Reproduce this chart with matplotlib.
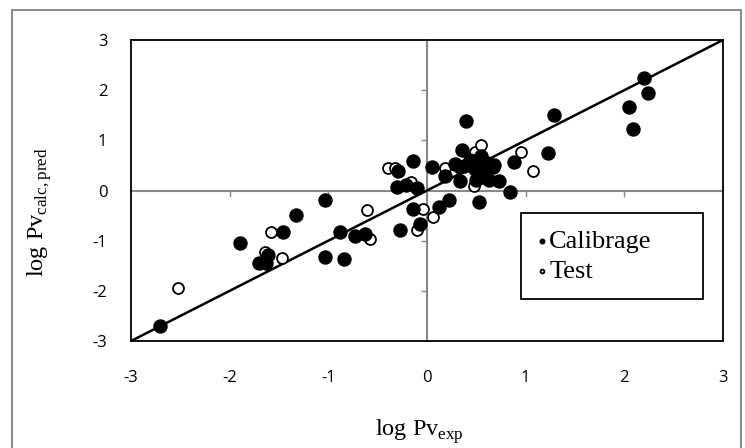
import matplotlib.pyplot as plt
from matplotlib.patches import Rectangle

# Calibrage (filled) points: log Pv exp / log Pv calc
calib_x = [-2.71, -1.90, -1.70, -1.63, -1.61, -1.46, -1.33, -1.03, -1.03, -0.84,
           -0.88, -0.73, -0.63, -0.27, -0.29, -0.30, -0.21, -0.145, -0.14, -0.10,
           -0.07, 0.05, 0.12, 0.22, 0.18, 0.28, 0.33, 0.35, 0.40, 0.37,
           0.44, 0.49, 0.53, 0.55, 0.58, 0.61, 0.63, 0.68, 0.73, 0.84,
           0.88, 1.23, 1.29, 2.05, 2.09, 2.20, 2.24, 0.52, 0.54, 0.57,
           0.62, 0.67, 0.33, 0.50]
calib_y = [-2.71, -1.05, -1.45, -1.45, -1.29, -0.82, -0.49, -0.18, -1.33, -1.36,
           -0.82, -0.90, -0.86, -0.78, 0.39, 0.06, 0.11, 0.58, -0.37, 0.04,
           -0.67, 0.46, -0.32, -0.18, 0.28, 0.52, 0.18, 0.80, 1.39, 0.48,
           0.60, 0.42, -0.22, 0.68, 0.35, 0.55, 0.21, 0.50, 0.19, -0.02,
           0.57, 0.74, 1.50, 1.67, 1.22, 2.25, 1.95, 0.60, 0.40, 0.27,
           0.53, 0.47, 0.47, 0.20]

# Test (open) points
test_x = [-2.52, -1.58, -1.64, -1.47, -0.61, -0.58, -0.40, -0.32, -0.16, -0.04,
          -0.10, 0.06, 0.18, 0.48, 0.49, 0.55, 0.95, 1.07]
test_y = [-1.95, -0.82, -1.22, -1.35, -0.39, -0.97, 0.45, 0.44, 0.17, -0.36,
          -0.79, -0.53, 0.45, 0.08, 0.76, 0.91, 0.76, 0.38]

ticks = [-3, -2, -1, 0, 1, 2, 3]
lims = [-3, 3]

plt.rcParams['mathtext.fontset'] = 'custom'
plt.rcParams['mathtext.rm'] = 'Liberation Serif'
plt.rcParams['axes.unicode_minus'] = False

fig = plt.figure(figsize=(7.45, 4.48), dpi=100)
pos = [131 / 745, 1 - 341 / 448, 592 / 745, 301 / 448]

# zero-crossing axes with gray ticks (Excel style)
axz = fig.add_axes(pos, zorder=0)
axz.set_xlim(lims)
axz.set_ylim(lims)
axz.spines['left'].set_position(('data', 0))
axz.spines['bottom'].set_position(('data', 0))
axz.spines['top'].set_visible(False)
axz.spines['right'].set_visible(False)
for s in ['left', 'bottom']:
    axz.spines[s].set_color('#888888')
    axz.spines[s].set_linewidth(1.5)
axz.set_xticks([t for t in ticks if t != 0 and abs(t) != 3])
axz.set_yticks([t for t in ticks if t != 0 and abs(t) != 3])
axz.tick_params(colors='#888888', length=4, width=1, labelleft=False, labelbottom=False)
axz.patch.set_visible(False)

ax = fig.add_axes(pos, zorder=1)
ax.patch.set_visible(False)
ax.set_xlim(lims)
ax.set_ylim(lims)
for s in ax.spines.values():
    s.set_color('black')
    s.set_linewidth(1.3)
ax.set_xticks(ticks)
ax.set_yticks(ticks)
ax.tick_params(length=0)
ax.tick_params(axis='x', pad=21)
ax.tick_params(axis='y', pad=17)
for lab in ax.get_xticklabels() + ax.get_yticklabels():
    lab.set_fontfamily('Open Sans')
    lab.set_fontsize(12)

ax.plot(lims, lims, color='black', lw=1.8, zorder=2)
ax.scatter(test_x, test_y, s=62, facecolors='white', edgecolors='black',
           linewidths=1.3, label='Test', zorder=3)
ax.scatter(calib_x, calib_y, s=88, color='black', label='Calibrage', zorder=4)

handles, labels = ax.get_legend_handles_labels()
leg = ax.legend(handles[::-1], labels[::-1], loc='upper left',
                bbox_to_anchor=(0.659, 0.0, 0.307, 0.425), mode='expand',
                frameon=True, fancybox=False,
                markerscale=0.35, handlelength=0.35, handletextpad=0.1,
                borderpad=0.62, borderaxespad=0, labelspacing=0.25,
                prop={'family': 'Liberation Serif', 'size': 19})
leg.get_frame().set_edgecolor('black')
leg.get_frame().set_linewidth(1.3)
leg.get_frame().set_alpha(1)

ax.set_xlabel(r'log Pv$_{\mathrm{exp}}$', fontfamily='Liberation Serif', fontsize=17.5)
ax.xaxis.set_label_coords(0.488, -0.255)
ax.set_ylabel(r'log Pv$_{\mathrm{calc,\!\,pred}}$', fontfamily='Liberation Serif', fontsize=17.5)
ax.yaxis.set_label_coords(-0.13, 0.429)

fig.patches.append(Rectangle((12 / 745, -0.02), 729 / 745, 1.02 - 10 / 448,
                             transform=fig.transFigure, fill=False,
                             edgecolor='#8c8c8c', lw=1.5))

fig.savefig('out.png', dpi=100)
